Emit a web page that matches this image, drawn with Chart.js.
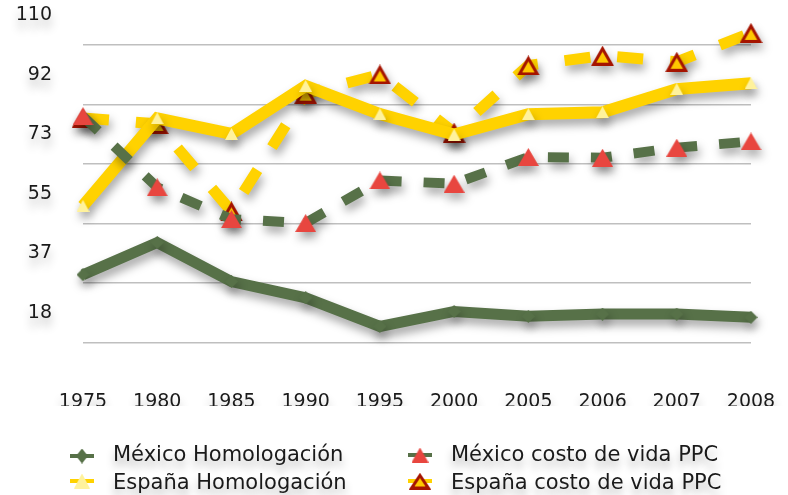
<!DOCTYPE html>
<html>
<head>
<meta charset="utf-8">
<script src="https://cdn.jsdelivr.net/npm/chart.js@4.4.0/dist/chart.umd.min.js"></script>
<style>
  html, body { margin: 0; padding: 0; background: #fff; }
  #wrap { position: relative; width: 788px; height: 495px; }
  .key { position: absolute; }
  .key-text {
    position: absolute;
    font: 21px "DejaVu Sans";
    line-height: 25px;
    color: #1a1a1a;
    white-space: nowrap;
    text-shadow: 0 7px 8px rgba(0, 0, 0, 0.3);
  }
</style>
</head>
<body>
<div id="wrap">
  <canvas id="chart" width="788" height="495"></canvas>
</div>
<script>
const years = ['1975', '1980', '1985', '1990', '1995', '2000', '2005', '2006', '2007', '2008'];
const mexicoHomologacion = [30.1, 40.0, 28.0, 23.0, 14.2, 18.8, 17.3, 18.0, 18.0, 17.0];
const mexicoCostoVida = [78.8, 57.0, 47.2, 46.0, 59.1, 58.1, 66.3, 66.1, 69.2, 71.1];
const espanaHomologacion = [51.3, 78.2, 73.4, 88.2, 79.5, 73.2, 79.5, 80.1, 87.2, 89.0];
const espanaCostoVida = [78.3, 76.5, 49.6, 85.8, 91.7, 73.8, 94.5, 97.5, 95.6, 104.5];
const yTicks = [110 / 6, 220 / 6, 55, 440 / 6, 550 / 6, 110];

const GREEN = '#577148';
const YELLOW = '#FFD200';
const RED = '#E8463F';
const PALE = '#FFF29C';
const TEXT = '#1a1a1a';
const tickFont = { family: 'DejaVu Sans', size: 19 };

// marker images, drawn centred on the point like the original markers
function triangleMarker(w, h, fill, stroke, lw) {
  const c = document.createElement('canvas');
  c.width = w; c.height = h;
  const g = c.getContext('2d');
  const i = lw || 0;
  g.beginPath();
  g.moveTo(w / 2, i);
  g.lineTo(w - i * 0.9, h - i / 2);
  g.lineTo(i * 0.9, h - i / 2);
  g.closePath();
  g.fillStyle = fill;
  g.fill();
  if (stroke) {
    g.lineWidth = lw;
    g.strokeStyle = stroke;
    g.lineJoin = 'miter';
    g.stroke();
  }
  return c;
}

function diamondMarker(w, h, fill) {
  const c = document.createElement('canvas');
  c.width = w; c.height = h;
  const g = c.getContext('2d');
  g.beginPath();
  g.moveTo(w / 2, 0);
  g.lineTo(w, h / 2);
  g.lineTo(w / 2, h);
  g.lineTo(0, h / 2);
  g.closePath();
  g.fillStyle = fill;
  g.fill();
  return c;
}

const redTriangle = triangleMarker(21, 18, RED);
const paleTriangle = triangleMarker(13, 12, PALE);
const outlinedTriangle = triangleMarker(23, 20, '#FFC800', '#A51400', 3);
const greenDiamond = diamondMarker(13, 13, GREEN);

// soft drop shadow under the series
const lineShadow = {
  id: 'lineShadow',
  beforeDatasetsDraw(chart) {
    const ctx = chart.ctx;
    ctx.save();
    ctx.shadowColor = 'rgba(0,0,0,0.35)';
    ctx.shadowBlur = 10;
    ctx.shadowOffsetX = 2;
    ctx.shadowOffsetY = 6;
  },
  afterDatasetsDraw(chart) {
    chart.ctx.restore();
  }
};

// blurred shadow under the tick labels only (not the grid)
const labelShadow = {
  id: 'labelShadow',
  beforeDraw(chart) {
    Object.values(chart.scales).forEach(scale => {
      if (scale.$shadowed) return;
      const drawLabels = scale.drawLabels;
      scale.drawLabels = function (area) {
        const ctx = this.ctx;
        ctx.save();
        ctx.shadowColor = 'rgba(0,0,0,0.3)';
        ctx.shadowBlur = 10;
        ctx.shadowOffsetY = 8;
        drawLabels.call(this, area);
        ctx.restore();
      };
      scale.$shadowed = true;
    });
  }
};

new Chart(document.getElementById('chart'), {
  type: 'line',
  data: {
    labels: years,
    datasets: [
      {
        label: 'México costo de vida PPC',
        data: mexicoCostoVida,
        borderColor: GREEN,
        borderWidth: 10,
        borderDash: [21, 22],
        pointStyle: redTriangle,
        order: 0
      },
      {
        label: 'España Homologación',
        data: espanaHomologacion,
        borderColor: YELLOW,
        borderWidth: 12,
        pointStyle: paleTriangle,
        order: 1
      },
      {
        label: 'España costo de vida PPC',
        data: espanaCostoVida,
        borderColor: YELLOW,
        borderWidth: 11,
        borderDash: [26, 27],
        pointStyle: outlinedTriangle,
        order: 2
      },
      {
        label: 'México Homologación',
        data: mexicoHomologacion,
        borderColor: GREEN,
        borderWidth: 11,
        pointStyle: greenDiamond,
        order: 3
      }
    ]
  },
  options: {
    responsive: false,
    animation: false,
    devicePixelRatio: 1,
    layout: { autoPadding: false, padding: { top: 15, right: 37, bottom: 89, left: 0 } },
    datasets: {
      line: {
        clip: false, tension: 0, fill: false,
        pointRadius: 8, pointBorderWidth: 0, pointHoverRadius: 8,
        borderJoinStyle: 'miter'
      }
    },
    plugins: {
      legend: { display: false },
      tooltip: { enabled: false }
    },
    scales: {
      x: {
        grid: { display: false },
        border: { display: false },
        ticks: { font: tickFont, color: TEXT, padding: 40, maxRotation: 0, autoSkip: false },
        afterFit: axis => {
          axis.height = 63;
          axis.paddingLeft = 0;
          axis.paddingRight = 0;
        }
      },
      y: {
        min: 9.1,
        max: 110,
        bounds: 'data',
        border: { display: false },
        grid: { offset: true, color: '#bfbfbf', lineWidth: 1.5, drawTicks: false },
        afterBuildTicks: axis => { axis.ticks = yTicks.map(v => ({ value: v })); },
        ticks: { font: tickFont, color: TEXT, padding: 31, callback: v => Math.round(v) },
        afterFit: axis => {
          axis.width = 83;
          axis.paddingTop = 0;
          axis.paddingBottom = 0;
        }
      }
    }
  },
  plugins: [lineShadow, labelShadow]
});

// legend in two aligned columns, keys a little smaller than the plot markers
const legendItems = [
  { text: 'México Homologación', color: GREEN, marker: diamondMarker(12, 15, GREEN), left: 70, top: 444, textTop: 442 },
  { text: 'México costo de vida PPC', color: GREEN, marker: triangleMarker(17, 15, RED), left: 408, top: 443, textTop: 442 },
  { text: 'España Homologación', color: YELLOW, marker: triangleMarker(16, 15, PALE), left: 70, top: 469, textTop: 470 },
  { text: 'España costo de vida PPC', color: YELLOW, marker: triangleMarker(22, 17, '#FFC800', '#A51400', 3), left: 408, top: 469, textTop: 470 }
];

const wrap = document.getElementById('wrap');
legendItems.forEach(item => {
  const key = document.createElement('canvas');
  key.width = 26; key.height = 24;
  key.className = 'key';
  key.style.left = item.left + 'px';
  key.style.top = item.top + 'px';
  const g = key.getContext('2d');
  g.fillStyle = item.color;
  g.fillRect(0, 10, 24, 4);
  g.drawImage(item.marker, 12 - item.marker.width / 2, 12 - item.marker.height / 2);
  wrap.appendChild(key);

  const label = document.createElement('div');
  label.className = 'key-text';
  label.textContent = item.text;
  label.style.left = (item.left + 43) + 'px';
  label.style.top = item.textTop + 'px';
  wrap.appendChild(label);
});
</script>
</body>
</html>
